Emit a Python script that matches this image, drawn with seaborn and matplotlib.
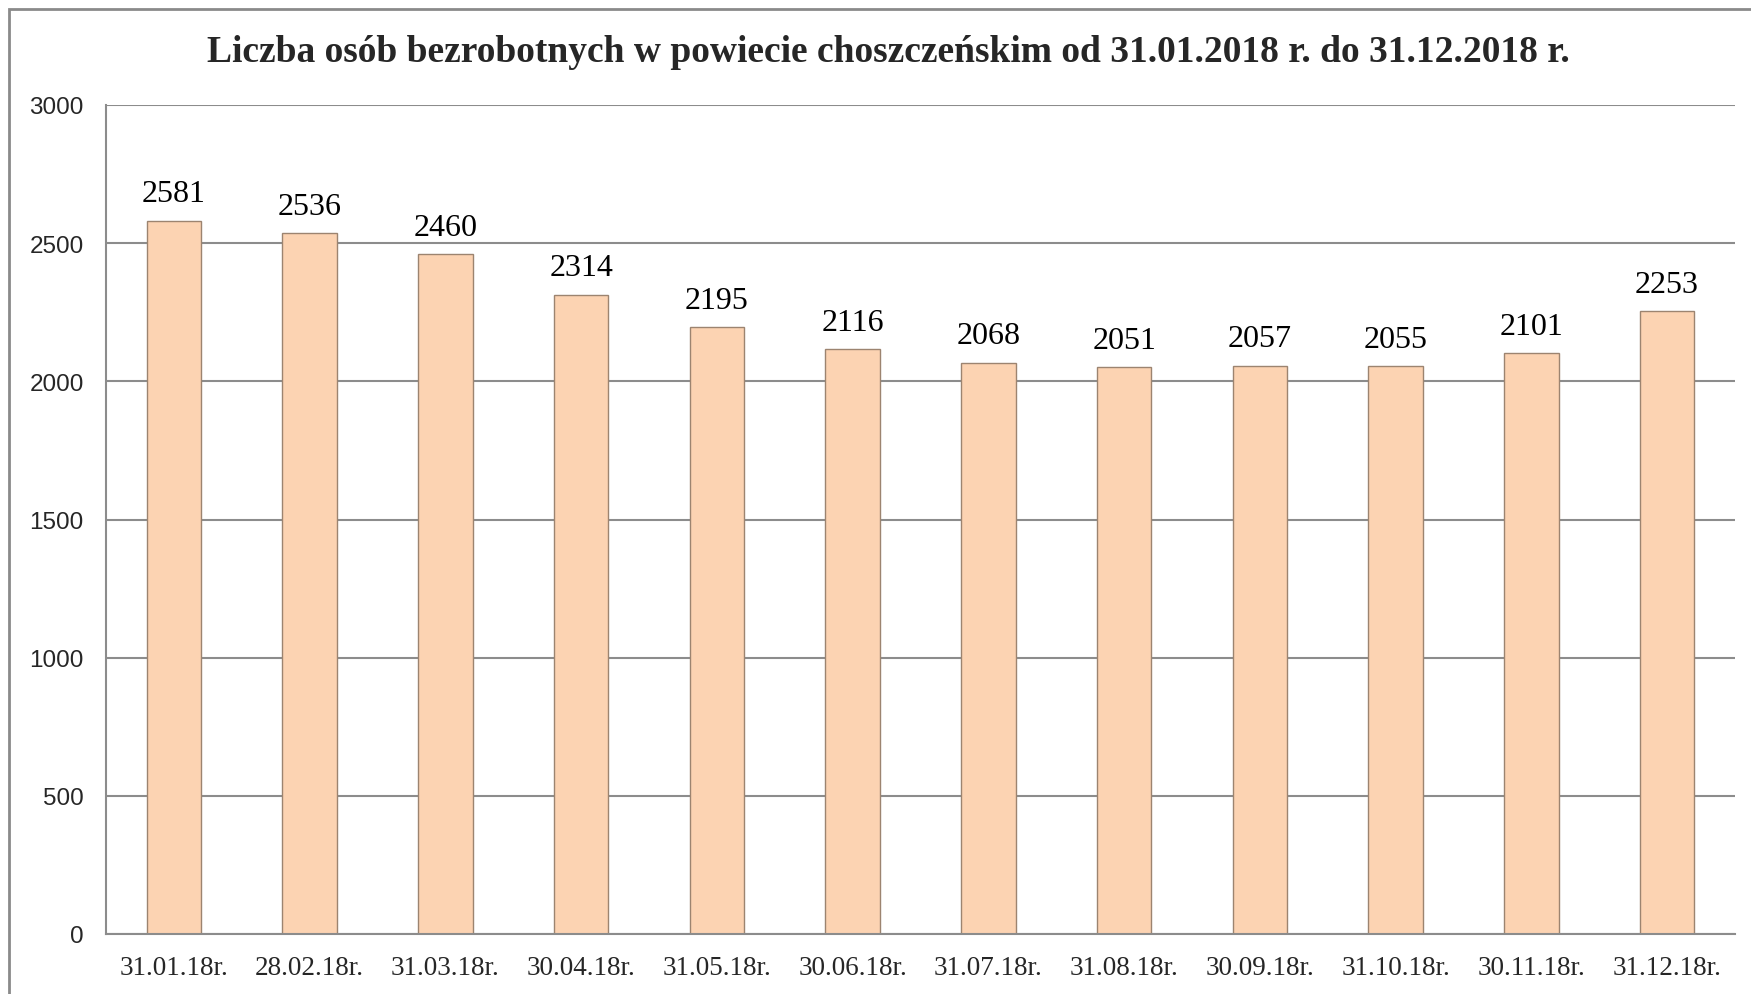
import matplotlib
matplotlib.use("Agg")
import matplotlib.pyplot as plt
import seaborn as sns
import pandas as pd
from matplotlib.patches import Rectangle

# data
dates = ['31.01.18r.', '28.02.18r.', '31.03.18r.', '30.04.18r.', '31.05.18r.', '30.06.18r.',
         '31.07.18r.', '31.08.18r.', '30.09.18r.', '31.10.18r.', '30.11.18r.', '31.12.18r.']
unemployed = [2581, 2536, 2460, 2314, 2195, 2116, 2068, 2051, 2057, 2055, 2101, 2253]
y_ticks = [0, 500, 1000, 1500, 2000, 2500, 3000]

title = 'Liczba osób bezrobotnych w powiecie choszczeńskim od 31.01.2018 r. do 31.12.2018 r.'

df = pd.DataFrame({'data': dates, 'liczba': unemployed})

sns.set_style('white')
plt.rcParams['font.family'] = ['Liberation Serif', 'DejaVu Serif']

W, H = 1751, 995
fig = plt.figure(figsize=(W / 100, H / 100), dpi=100)
ax = fig.add_axes([106 / W, (H - 935) / H, (1735 - 106) / W, (935 - 106) / H])

# outer chart border (cut off on right and bottom in the original)
fig.patches.append(Rectangle((9 / W, -0.1), 1.2, (H - 10) / H + 0.1, transform=fig.transFigure,
                             fill=False, edgecolor='#8a8a8a', linewidth=2))

sns.barplot(data=df, x='data', y='liczba', ax=ax, color='#FCD3B2', width=0.4,
            edgecolor='#9c8470', linewidth=1.0, saturation=1)

ax.bar_label(ax.containers[0], fontsize=23, padding=9, color='black')

ax.set_ylim(0, 3000)
ax.set_yticks(y_ticks)
ax.set_yticklabels([str(t) for t in y_ticks], fontsize=17.5, family='Liberation Sans')
ax.tick_params(axis='y', length=0, pad=16)
ax.tick_params(axis='x', length=0, pad=15, labelsize=19.5)
ax.yaxis.grid(True, color='#8c8c8c', linewidth=1.5)
ax.set_axisbelow(True)
ax.set_xlabel('')
ax.set_ylabel('')

for s in ['top', 'right']:
    ax.spines[s].set_visible(False)
for s in ['left', 'bottom']:
    ax.spines[s].set_color('#8c8c8c')
    ax.spines[s].set_linewidth(1.5)

fig.text(888 / W, 1 - 53 / H, title, ha='center', va='center', fontsize=27, fontweight='bold')

fig.savefig('out.png', dpi=100)
